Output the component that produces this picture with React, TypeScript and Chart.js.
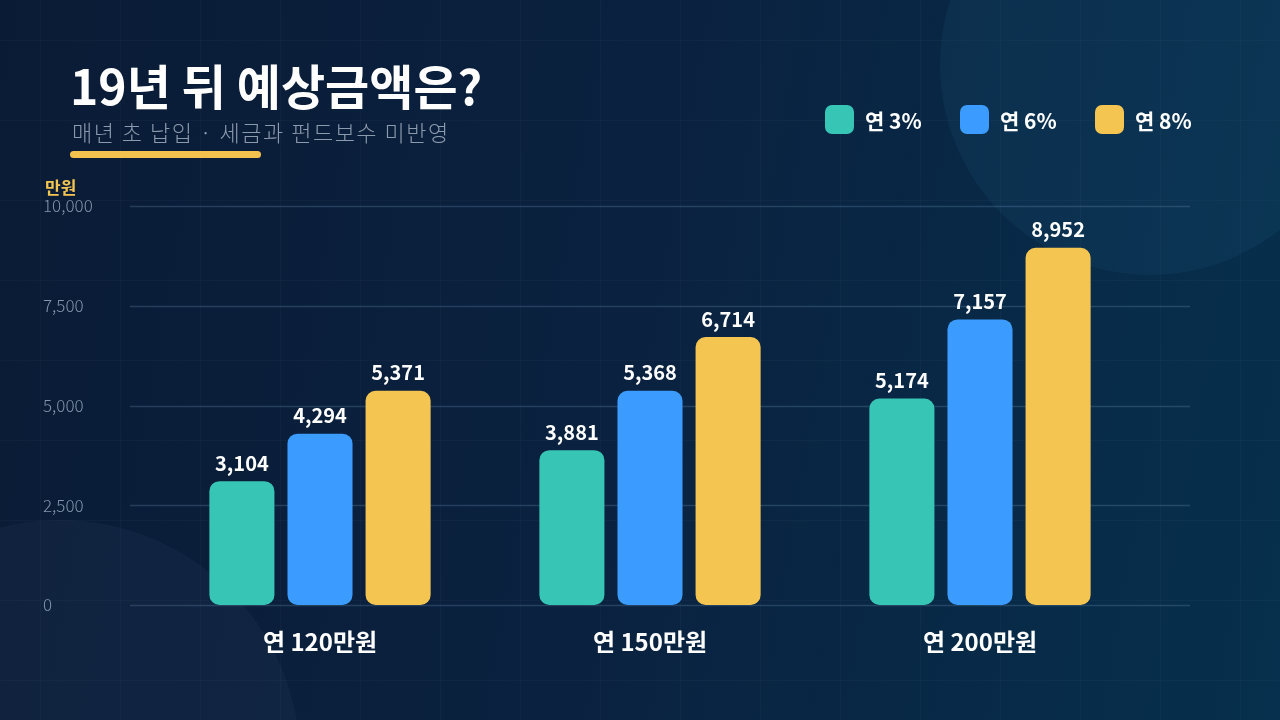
import React, { useEffect, useRef } from 'react'
import { Chart, registerables } from 'chart.js'

Chart.register(...registerables)

const categories = ['연 120만원', '연 150만원', '연 200만원']
const seriesNames = ['연 3%', '연 6%', '연 8%']
const rate3 = [3104, 3881, 5174]
const rate6 = [4294, 5368, 7157]
const rate8 = [5371, 6714, 8952]
const yTicks = [0, 2500, 5000, 7500, 10000]

const colors = ['#37c6b6', '#3b9bff', '#f5c552']
const FONT = '"Noto Sans CJK KR", "Noto Sans", sans-serif'

// grid lines span wider than the bar area
const gridLines = {
    id: 'gridLines',
    beforeDatasetsDraw(chart: Chart) {
        const ctx = chart.ctx
        const y = chart.scales.y
        ctx.save()
        ctx.strokeStyle = 'rgba(120, 155, 190, 0.26)'
        ctx.lineWidth = 1.5
        y.ticks.forEach((t) => {
            const py = Math.round(y.getPixelForValue(t.value)) + 0.5
            ctx.beginPath()
            ctx.moveTo(130, py)
            ctx.lineTo(1190, py)
            ctx.stroke()
        })
        ctx.restore()
    }
}

const valueLabels = {
    id: 'valueLabels',
    afterDatasetsDraw(chart: Chart) {
        const ctx = chart.ctx
        ctx.save()
        ctx.fillStyle = '#ffffff'
        ctx.font = `bold 20px ${FONT}`
        ctx.textAlign = 'center'
        ctx.textBaseline = 'bottom'
        chart.data.datasets.forEach((ds, i) => {
            const meta = chart.getDatasetMeta(i)
            meta.data.forEach((bar, j) => {
                const v = ds.data[j] as number
                ctx.fillText(v.toLocaleString('en-US'), bar.x, bar.y - 8)
            })
        })
        ctx.restore()
    }
}

function BarChart() {
    const canvasRef = useRef<HTMLCanvasElement>(null)
    const chartInstance = useRef<Chart>()

    useEffect(() => {
        if (!canvasRef.current) return
        if (chartInstance.current) chartInstance.current.destroy()

        const series = [rate3, rate6, rate8]
        chartInstance.current = new Chart(canvasRef.current, {
            type: 'bar',
            data: {
                labels: categories,
                datasets: series.map((data, i) => ({
                    label: seriesNames[i],
                    data,
                    backgroundColor: colors[i],
                    borderRadius: 10,
                    borderSkipped: false,
                    barPercentage: 0.833,
                    categoryPercentage: 0.71
                }))
            },
            options: {
                responsive: false,
                animation: false,
                layout: { padding: { left: 43, top: 206, right: 135, bottom: 0 } },
                plugins: {
                    legend: { display: false },
                    tooltip: { enabled: false }
                },
                scales: {
                    x: {
                        grid: { display: false, drawTicks: false },
                        border: { display: false },
                        ticks: {
                            color: '#ffffff',
                            padding: 22,
                            font: { family: FONT, size: 24, weight: 'bold' }
                        },
                        afterFit: (scale) => { scale.height = 115 }
                    },
                    y: {
                        min: 0,
                        max: 10000,
                        afterBuildTicks: (scale) => {
                            scale.ticks = yTicks.map((value) => ({ value }))
                        },
                        grid: { display: false, drawTicks: false },
                        border: { display: false },
                        ticks: {
                            color: '#8195ac',
                            crossAlign: 'far',
                            font: { family: FONT, size: 17, weight: 300 },
                            callback: (value) => Number(value).toLocaleString('en-US')
                        },
                        afterFit: (scale) => { scale.width = 112 }
                    }
                }
            },
            plugins: [gridLines, valueLabels]
        })

        return () => {
            if (chartInstance.current) chartInstance.current.destroy()
        }
    }, [])

    return <canvas ref={canvasRef} width={1280} height={720} style={{ position: 'absolute', left: 0, top: 0 }} />
}

export default function App() {
    return (
        <div style={{
            position: 'fixed', left: 0, top: 0, width: 1280, height: 720, overflow: 'hidden',
            background: 'linear-gradient(100deg, #0a1b35 0%, #0a2240 50%, #06304d 100%)',
            fontFamily: FONT
        }}>
            <div style={{
                position: 'absolute', inset: 0,
                backgroundImage: 'linear-gradient(rgba(255,255,255,0.025) 1px, transparent 1px), linear-gradient(90deg, rgba(255,255,255,0.025) 1px, transparent 1px)',
                backgroundSize: '80px 80px',
                backgroundPosition: '40px 40px'
            }} />
            <div style={{
                position: 'absolute', left: 1150 - 210, top: 65 - 210, width: 420, height: 420,
                borderRadius: '50%', background: 'rgba(40, 110, 150, 0.12)'
            }} />
            <div style={{
                position: 'absolute', left: 60 - 240, top: 760 - 240, width: 480, height: 480,
                borderRadius: '50%', background: 'rgba(90, 120, 150, 0.08)'
            }} />
            <BarChart />
            <div style={{ position: 'absolute', left: 70, top: 52, color: '#ffffff', fontSize: 48, fontWeight: 700, lineHeight: '64px' }}>
                19년 뒤 예상금액은?
            </div>
            <div style={{ position: 'absolute', left: 72, top: 116, color: '#8c9aad', fontSize: 22, fontWeight: 300, lineHeight: '30px', letterSpacing: 1.5 }}>
                매년 초 납입 · 세금과 펀드보수 미반영
            </div>
            <div style={{ position: 'absolute', left: 70, top: 151, width: 191, height: 7, borderRadius: 4, background: '#f2c14e' }} />
            <div style={{ position: 'absolute', left: 45, top: 176, color: '#f5c552', fontSize: 17, fontWeight: 700, lineHeight: '22px' }}>
                만원
            </div>
            {seriesNames.map((name, i) => (
                <div key={name} style={{ position: 'absolute', left: 825 + i * 135, top: 105, display: 'flex', alignItems: 'center', height: 29 }}>
                    <div style={{ width: 29, height: 29, borderRadius: 7, background: colors[i] }} />
                    <div style={{ marginLeft: 11, color: '#ffffff', fontSize: 21, fontWeight: 700 }}>{name}</div>
                </div>
            ))}
        </div>
    )
}
